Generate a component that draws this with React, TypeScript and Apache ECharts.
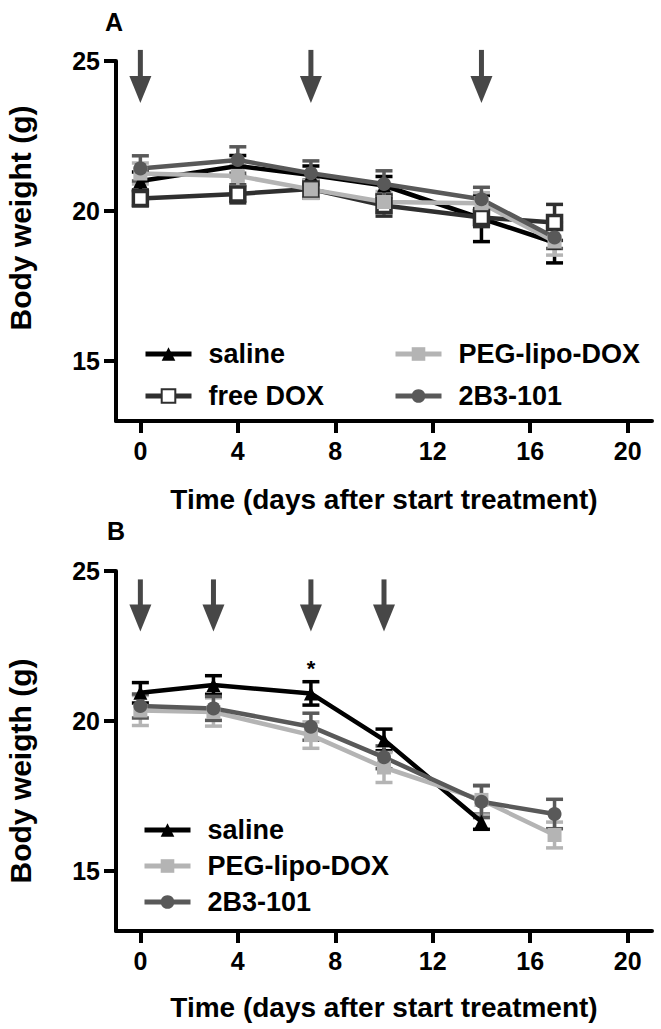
import React, { useEffect, useRef } from "react";
import * as echarts from "echarts";

const FONT = '"Liberation Sans", Arial, sans-serif';

// ---- Panel A data ----
const daysA = [0, 4, 7, 10, 14, 17];
const salineA = [21.0, 21.5, 21.2, 20.85, 19.75, 18.95];
const salineASem = [0.3, 0.35, 0.3, 0.3, 0.77, 0.68];
const freeDoxA = [20.42, 20.57, 20.73, 20.18, 19.78, 19.62];
const freeDoxASem = [0.25, 0.3, 0.3, 0.35, 0.3, 0.6];
const pegA = [21.25, 21.17, 20.72, 20.3, 20.26, 18.98];
const pegASem = [0.35, 0.35, 0.3, 0.35, 0.35, 0.45];
const b3A = [21.42, 21.7, 21.26, 20.9, 20.39, 19.12];
const b3ASem = [0.42, 0.44, 0.41, 0.44, 0.4, 0.37];
const arrowDaysA = [0, 7, 14];
const arrowTopA = 25.37;
const arrowTipA = 23.6;

// ---- Panel B data ----
const salineDaysB = [0, 3, 7, 10, 14];
const daysB = [0, 3, 7, 10, 14, 17];
const salineB = [20.94, 21.2, 20.92, 19.37, 16.64];
const salineBSem = [0.34, 0.31, 0.39, 0.36, 0.25];
const pegB = [20.35, 20.3, 19.53, 18.45, 17.37, 16.2];
const pegBSem = [0.5, 0.47, 0.44, 0.5, 0.5, 0.43];
const b3B = [20.5, 20.42, 19.81, 18.79, 17.31, 16.9];
const b3BSem = [0.4, 0.4, 0.45, 0.38, 0.53, 0.49];
const arrowDaysB = [0, 3, 7, 10];
const arrowTopB = 24.72;
const arrowTipB = 22.98;
const starB = [[7, 21.76]];

const xTicks = [0, 4, 8, 12, 16, 20];
const yTicks = [15, 20, 25];

const C_SALINE = "#000000";
const C_FREE = "#2f2f2f";
const C_PEG = "#b4b4b4";
const C_B3 = "#595959";
const C_ARROW = "#474747";

function pairs(xs: number[], ys: number[]) {
  return ys.map((y, i) => [xs[i], y]);
}
function triples(xs: number[], ys: number[], es: number[]) {
  return ys.map((y, i) => [xs[i], y, es[i]]);
}

function errSeries(name: string, gi: number, data: number[][], color: string) {
  return {
    type: "custom",
    name,
    xAxisIndex: gi,
    yAxisIndex: gi,
    encode: { x: 0, y: 1 },
    data,
    silent: true,
    renderItem: (_p: any, api: any) => {
      const x = api.value(0);
      const m = api.value(1);
      const e = api.value(2);
      const t = api.coord([x, m + e]);
      const b = api.coord([x, m - e]);
      const hw = 8.5;
      const st = { stroke: color, lineWidth: 3.5 };
      return {
        type: "group",
        children: [
          { type: "line", shape: { x1: t[0], y1: t[1], x2: b[0], y2: b[1] }, style: st },
          { type: "line", shape: { x1: t[0] - hw, y1: t[1], x2: t[0] + hw, y2: t[1] }, style: st },
          { type: "line", shape: { x1: b[0] - hw, y1: b[1], x2: b[0] + hw, y2: b[1] }, style: st },
        ],
      };
    },
  };
}

function lineSeries(name: string, gi: number, data: number[][], color: string, symbol: string, open = false) {
  return {
    type: "line",
    name,
    xAxisIndex: gi,
    yAxisIndex: gi,
    data,
    symbol,
    symbolSize: 14,
    showAllSymbol: true,
    lineStyle: { color, width: 4.5 },
    itemStyle: open
      ? { color: "#ffffff", borderColor: color, borderWidth: 3.5 }
      : { color, borderWidth: 0 },
    emphasis: { disabled: true },
  };
}

function arrowSeries(gi: number, days: number[], top: number, tip: number) {
  return {
    type: "custom",
    name: "arrows" + gi,
    xAxisIndex: gi,
    yAxisIndex: gi,
    encode: { x: 0, y: [1, 2] },
    data: days.map((d) => [d, top, tip]),
    silent: true,
    renderItem: (_p: any, api: any) => {
      const p1 = api.coord([api.value(0), api.value(1)]);
      const p2 = api.coord([api.value(0), api.value(2)]);
      const headLen = 27;
      const headHalf = 11;
      return {
        type: "group",
        children: [
          {
            type: "rect",
            shape: { x: p1[0] - 2.5, y: p1[1], width: 5, height: p2[1] - headLen - p1[1] + 1 },
            style: { fill: C_ARROW },
          },
          {
            type: "polygon",
            shape: {
              points: [
                [p2[0] - headHalf, p2[1] - headLen],
                [p2[0] + headHalf, p2[1] - headLen],
                [p2[0], p2[1]],
              ],
            },
            style: { fill: C_ARROW },
          },
        ],
      };
    },
  };
}

function starSeries(gi: number, data: number[][]) {
  return {
    type: "custom",
    name: "star" + gi,
    xAxisIndex: gi,
    yAxisIndex: gi,
    encode: { x: 0, y: 1 },
    data,
    silent: true,
    renderItem: (_p: any, api: any) => {
      const p = api.coord([api.value(0), api.value(1)]);
      return {
        type: "text",
        x: p[0],
        y: p[1],
        style: {
          text: "*",
          font: `bold 22px ${FONT}`,
          fill: "#000",
          align: "center",
          verticalAlign: "middle",
        },
      };
    },
  };
}

function mkX(gi: number) {
  return {
    type: "value",
    gridIndex: gi,
    min: -1,
    max: 21,
    axisLine: { show: true, onZero: false, lineStyle: { color: "#000", width: 4 } },
    axisTick: { show: true, customValues: xTicks, length: 12, lineStyle: { color: "#000", width: 4 } },
    axisLabel: {
      customValues: xTicks,
      fontSize: 25,
      fontWeight: "bold",
      color: "#000",
      margin: 17,
      fontFamily: FONT,
    },
    splitLine: { show: false },
  };
}

function mkY(gi: number) {
  return {
    type: "value",
    gridIndex: gi,
    min: 13,
    max: 25,
    axisLine: { show: true, onZero: false, lineStyle: { color: "#000", width: 4 } },
    axisTick: { show: true, customValues: yTicks, length: 12, lineStyle: { color: "#000", width: 4 } },
    axisLabel: {
      customValues: yTicks,
      fontSize: 25,
      fontWeight: "bold",
      color: "#000",
      margin: 16,
      fontFamily: FONT,
    },
    splitLine: { show: false },
  };
}

const legendText = {
  fontSize: 27,
  fontWeight: "bold",
  color: "#000",
  fontFamily: FONT,
  lineHeight: 28,
  padding: [0, 0, 0, 12],
};

function mkLegend(left: number, top: number, gap: number, data: string[]) {
  return {
    orient: "vertical",
    left,
    top,
    padding: 0,
    itemWidth: 46,
    itemHeight: 17,
    itemGap: gap,
    selectedMode: false,
    data,
    lineStyle: { width: 5 },
    textStyle: legendText,
  };
}

function txt(text: string, x: number, y: number, size: number, rotation = 0) {
  return {
    type: "text",
    x,
    y,
    rotation,
    style: {
      text,
      font: `bold ${size}px ${FONT}`,
      fill: "#000",
      align: "center",
      verticalAlign: "middle",
    },
  };
}

export default function App() {
  const ref = useRef<HTMLDivElement>(null);
  useEffect(() => {
    if (!ref.current) return;
    const chart = echarts.init(ref.current, null, { renderer: "svg" });
    chart.setOption({
      animation: false,
      backgroundColor: "#ffffff",
      textStyle: { fontFamily: FONT },
      grid: [
        { left: 116, top: 61, width: 536, height: 360 },
        { left: 116, top: 571, width: 536, height: 360 },
      ],
      xAxis: [mkX(0), mkX(1)],
      yAxis: [mkY(0), mkY(1)],
      legend: [
        mkLegend(143, 340, 14, ["saline", "free DOX"]),
        mkLegend(393, 340, 14, ["PEG-lipo-DOX", "2B3-101"]),
        mkLegend(142, 816, 8, ["saline", "PEG-lipo-DOX", "2B3-101"]),
      ],
      graphic: [
        txt("A", 114, 22, 25),
        txt("B", 116, 531, 25),
        txt("Body weight (g)", 20, 218, 30, Math.PI / 2),
        txt("Body weigth (g)", 20, 771, 30, Math.PI / 2),
        txt("Time (days after start treatment)", 384, 499, 28),
        txt("Time (days after start treatment)", 384, 1007, 28),
      ],
      series: [
        arrowSeries(0, arrowDaysA, arrowTopA, arrowTipA),
        errSeries("saline errA", 0, triples(daysA, salineA, salineASem), C_SALINE),
        lineSeries("saline", 0, pairs(daysA, salineA), C_SALINE, "triangle"),
        errSeries("free DOX errA", 0, triples(daysA, freeDoxA, freeDoxASem), C_FREE),
        lineSeries("free DOX", 0, pairs(daysA, freeDoxA), C_FREE, "rect", true),
        errSeries("PEG errA", 0, triples(daysA, pegA, pegASem), C_PEG),
        lineSeries("PEG-lipo-DOX", 0, pairs(daysA, pegA), C_PEG, "rect"),
        errSeries("2B3 errA", 0, triples(daysA, b3A, b3ASem), C_B3),
        lineSeries("2B3-101", 0, pairs(daysA, b3A), C_B3, "circle"),

        arrowSeries(1, arrowDaysB, arrowTopB, arrowTipB),
        errSeries("saline errB", 1, triples(salineDaysB, salineB, salineBSem), C_SALINE),
        lineSeries("saline", 1, pairs(salineDaysB, salineB), C_SALINE, "triangle"),
        errSeries("PEG errB", 1, triples(daysB, pegB, pegBSem), C_PEG),
        lineSeries("PEG-lipo-DOX", 1, pairs(daysB, pegB), C_PEG, "rect"),
        errSeries("2B3 errB", 1, triples(daysB, b3B, b3BSem), C_B3),
        lineSeries("2B3-101", 1, pairs(daysB, b3B), C_B3, "circle"),
        starSeries(1, starB),
      ],
    });
    return () => chart.dispose();
  }, []);
  return (
    <div
      ref={ref}
      style={{ position: "absolute", left: 0, top: 0, width: 661, height: 1029 }}
    />
  );
}
